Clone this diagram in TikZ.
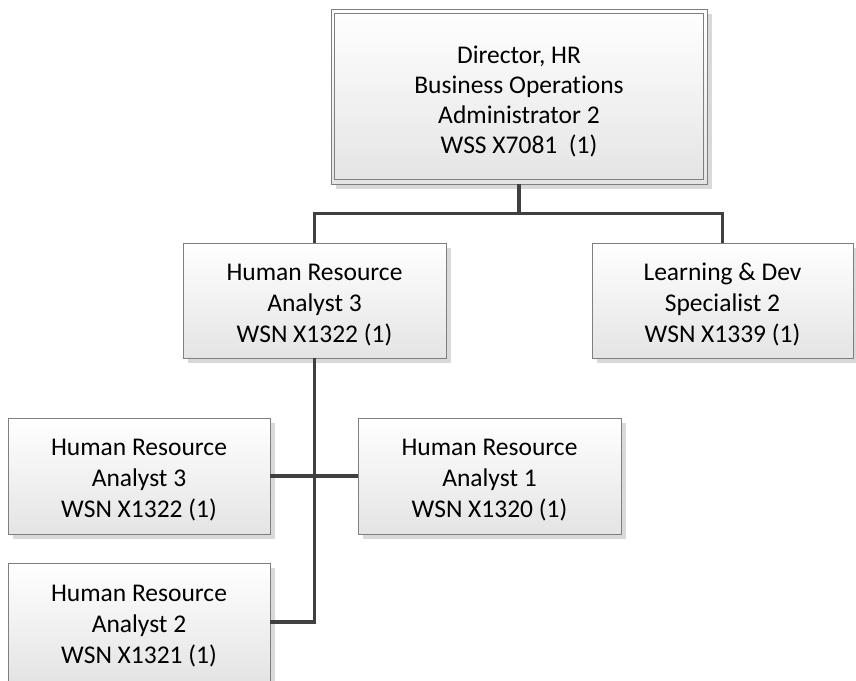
\documentclass[tikz,border=0pt]{standalone}
\usepackage{fontspec}
\setmainfont{Carlito}[Ligatures=NoCommon]
\usetikzlibrary{shadows}
\definecolor{boxline}{HTML}{7F7F7F}
\definecolor{connline}{HTML}{404040}
\definecolor{boxshade}{HTML}{E4E4E4}
\definecolor{shadowgray}{HTML}{D9D9D9}
% taller first line so that the text block sits a little lower in its box
\newcommand{\topstrut}[1]{\rule{0pt}{#1}}
\tikzset{
  orgbox/.style={rectangle, draw=boxline, line width=0.9pt, inner sep=0pt,
    top color=white, bottom color=boxshade, align=center,
    font=\fontsize{25.5}{31}\selectfont,
    drop shadow={shadow xshift=5pt, shadow yshift=-5pt, fill=shadowgray, opacity=1}},
  conn/.style={draw=connline, line width=3.2pt}
}
\begin{document}
\begin{tikzpicture}[x=1pt,y=-1pt]
\useasboundingbox (0,0) rectangle (856,680);
\clip (0,0) rectangle (856,680);

% top position (double frame)
\node[orgbox, minimum width=376pt, minimum height=175pt,
      font=\fontsize{25.5}{30}\selectfont] (top) at (519,96.5)
  {\topstrut{27pt}Director, HR\\Business Operations\\Administrator 2\\WSS X7081~~(1)};
\draw[boxline, line width=0.9pt] ([shift={(4,5)}]top.north west) rectangle ([shift={(-4,-5)}]top.south east);

% second level
\node[orgbox, minimum width=263pt, minimum height=115pt] (mid) at (314.5,300.5)
  {\topstrut{25pt}Human Resource\\Analyst 3\\WSN X1322 (1)};
\node[orgbox, minimum width=261pt, minimum height=115pt] (learn) at (722.5,300.5)
  {\topstrut{25pt}Learning \& Dev\\Specialist 2\\WSN X1339 (1)};

% third level
\node[orgbox, minimum width=262pt, minimum height=116pt] (ha3) at (139,476)
  {\topstrut{25pt}Human Resource\\Analyst 3\\WSN X1322 (1)};
\node[orgbox, minimum width=263pt, minimum height=116pt] (ha1) at (489.5,476)
  {\topstrut{25pt}Human Resource\\Analyst 1\\WSN X1320 (1)};
\node[orgbox, minimum width=262pt, minimum height=118pt] (ha2) at (139,622)
  {\topstrut{25pt}Human Resource\\Analyst 2\\WSN X1321 (1)};

% connectors
\coordinate (bus) at ([yshift=-29pt]top.south);
\draw[conn] (top.south) -- (bus);
\draw[conn] (mid.north) |- (bus) -| (learn.north);
\draw[conn] (mid.south) -- (mid.south |- ha2.east) -- (ha2.east);
\draw[conn] (ha3.east) -- (ha1.west);
\end{tikzpicture}
\end{document}
